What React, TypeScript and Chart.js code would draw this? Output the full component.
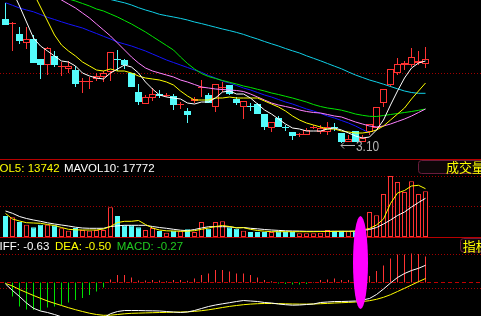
import React, { useEffect, useRef } from 'react';
import { Chart, registerables } from 'chart.js';
Chart.register(...registerables);

const W = 481;
const SLOT = 7;
const X_MIN = -5.5 / SLOT;
const X_MAX = X_MIN + W / SLOT;

// ---------- price data ----------
const opens = [4.34, 4.29, 4.19, 4.10, 4.14, 3.94, 3.88, 3.97, 3.86, 3.84,
  3.83, 3.71, 3.71, 3.74, 3.76, 3.81, 3.94, 3.93, 3.80, 3.61,
  3.49, 3.55, 3.59, 3.57, 3.57, 3.48, 3.42, 3.52, 3.65, 3.58,
  3.46, 3.65, 3.68, 3.54, 3.46, 3.47, 3.49, 3.39, 3.25, 3.35,
  3.26, 3.21, 3.18, 3.18, 3.25, 3.21, 3.21, 3.26, 3.20, 3.11,
  3.22, 3.11, 3.21, 3.25, 3.50, 3.68, 3.80, 3.88, 3.88, 3.90,
  3.89];
const highs = [4.50, 4.31, 4.26, 4.26, 4.18, 3.94, 4.06, 4.02, 3.91, 3.92,
  3.87, 3.75, 3.76, 3.80, 3.82, 4.01, 4.03, 3.94, 3.80, 3.69,
  3.58, 3.65, 3.63, 3.60, 3.59, 3.51, 3.45, 3.56, 3.73, 3.60,
  3.69, 3.71, 3.68, 3.56, 3.52, 3.50, 3.50, 3.39, 3.31, 3.37,
  3.28, 3.21, 3.20, 3.25, 3.28, 3.28, 3.31, 3.30, 3.20, 3.18,
  3.22, 3.18, 3.29, 3.46, 3.64, 3.84, 3.95, 3.92, 4.05, 4.02,
  4.06];
const lows = [4.28, 4.02, 4.09, 4.04, 3.90, 3.74, 3.78, 3.86, 3.77, 3.80,
  3.66, 3.60, 3.64, 3.72, 3.71, 3.72, 3.82, 3.84, 3.66, 3.48,
  3.49, 3.52, 3.55, 3.56, 3.43, 3.44, 3.30, 3.50, 3.56, 3.50,
  3.41, 3.61, 3.58, 3.48, 3.34, 3.42, 3.39, 3.23, 3.21, 3.26,
  3.22, 3.13, 3.16, 3.18, 3.24, 3.19, 3.18, 3.22, 3.10, 3.11,
  3.11, 3.11, 3.18, 3.25, 3.46, 3.66, 3.78, 3.83, 3.86, 3.88,
  3.85];
const closes = [4.28, 4.30, 4.12, 4.14, 3.90, 3.88, 4.05, 3.88, 3.87, 3.87,
  3.69, 3.71, 3.71, 3.77, 3.80, 4.01, 3.93, 3.88, 3.66, 3.51,
  3.56, 3.59, 3.57, 3.57, 3.48, 3.48, 3.38, 3.54, 3.66, 3.50,
  3.69, 3.66, 3.59, 3.50, 3.52, 3.46, 3.39, 3.26, 3.31, 3.26,
  3.25, 3.17, 3.19, 3.23, 3.26, 3.25, 3.26, 3.25, 3.11, 3.14,
  3.11, 3.15, 3.29, 3.46, 3.64, 3.84, 3.89, 3.90, 3.96, 3.92,
  3.94];

const ma5 = [4.78, 4.62, 4.47, 4.31, 4.15, 4.07, 4.02, 3.97, 3.92, 3.91,
  3.87, 3.80, 3.77, 3.75, 3.74, 3.80, 3.84, 3.88, 3.86, 3.80,
  3.71, 3.64, 3.58, 3.56, 3.55, 3.54, 3.50, 3.49, 3.51, 3.51,
  3.55, 3.61, 3.62, 3.59, 3.59, 3.55, 3.49, 3.43, 3.39, 3.34,
  3.29, 3.25, 3.24, 3.22, 3.22, 3.22, 3.24, 3.25, 3.23, 3.20,
  3.17, 3.15, 3.16, 3.23, 3.33, 3.48, 3.62, 3.75, 3.85, 3.90,
  3.92];
const ma10 = [null, null, 4.88, 4.74, 4.60, 4.46, 4.32, 4.18, 4.08, 4.02,
  3.97, 3.91, 3.87, 3.83, 3.82, 3.84, 3.82, 3.82, 3.80, 3.77,
  3.75, 3.74, 3.73, 3.71, 3.68, 3.62, 3.57, 3.53, 3.53, 3.53,
  3.55, 3.55, 3.56, 3.55, 3.55, 3.55, 3.55, 3.52, 3.49, 3.46,
  3.42, 3.37, 3.33, 3.30, 3.28, 3.26, 3.24, 3.24, 3.22, 3.21,
  3.20, 3.20, 3.21, 3.23, 3.27, 3.33, 3.39, 3.45, 3.54, 3.62,
  3.70];
const ma20 = [null, null, null, null, null, 4.70, 4.64, 4.59, 4.53, 4.49,
  4.45, 4.40, 4.35, 4.29, 4.23, 4.17, 4.10, 4.03, 3.96, 3.90,
  3.85, 3.82, 3.80, 3.78, 3.76, 3.73, 3.71, 3.685, 3.66, 3.65,
  3.64, 3.635, 3.63, 3.625, 3.615, 3.59, 3.56, 3.53, 3.50, 3.48,
  3.465, 3.45, 3.43, 3.415, 3.405, 3.40, 3.385, 3.37, 3.36, 3.335,
  3.31, 3.29, 3.27, 3.26, 3.27, 3.29, 3.315, 3.34, 3.37, 3.405,
  3.44];
const ma30 = [null, null, null, null, null, null, null, null, 4.57, 4.54,
  4.52, 4.495, 4.47, 4.44, 4.42, 4.39, 4.36, 4.325, 4.29, 4.25,
  4.21, 4.165, 4.12, 4.075, 4.03, 3.96, 3.895, 3.84, 3.795, 3.765,
  3.745, 3.725, 3.707, 3.69, 3.67, 3.655, 3.637, 3.62, 3.60, 3.585,
  3.567, 3.55, 3.53, 3.51, 3.485, 3.465, 3.45, 3.44, 3.428, 3.41,
  3.39, 3.377, 3.367, 3.365, 3.375, 3.385, 3.395, 3.405, 3.415, 3.427,
  3.44];
const ma60 = [4.503, 4.477, 4.45, 4.43, 4.412, 4.385, 4.357, 4.335, 4.312, 4.29,
  4.27, 4.25, 4.222, 4.195, 4.167, 4.14, 4.11, 4.09, 4.07, 4.045,
  4.02, 3.99, 3.96, 3.93, 3.905, 3.88, 3.855, 3.83, 3.807, 3.775,
  3.75, 3.72, 3.70, 3.675, 3.65, 3.63, 3.605, 3.58, 3.56, 3.535,
  3.51, 3.49, 3.465, 3.44, 3.42, 3.396, 3.37, 3.35, 3.325, 3.30,
  3.27, 3.235, 3.20, null, null, null, null, null, null, null,
  null];
const ma120 = [null, null, null, null, null, null, null, null, null, null,
  null, null, 4.595, 4.575, 4.555, 4.535, 4.518, 4.502, 4.48, 4.453,
  4.43, 4.41, 4.387, 4.373, 4.36, 4.346, 4.33, 4.31, 4.294, 4.276,
  4.258, 4.24, 4.224, 4.206, 4.186, 4.162, 4.14, 4.115, 4.092, 4.07,
  4.045, 4.022, 4.00, 3.972, 3.947, 3.922, 3.895, 3.868, 3.842, 3.81,
  3.78, 3.755, 3.73, 3.71, 3.688, 3.665, 3.642, 3.62, 3.605, 3.597,
  3.597];

// ---------- volume data ----------
const volumes = [21000, 19700, 15000, 12300, 9700, 12300, 12300, 11700, 8700, 6300,
  9000, 7000, 6300, 7000, 7000, 29700, 21000, 11700, 11700, 9700,
  7000, 9000, 6000, 4300, 6300, 5700, 7700, 5000, 15000, 8300,
  15000, 15700, 9700, 8300, 6300, 5000, 5000, 5000, 5000, 5700,
  5000, 5000, 3700, 3700, 3700, 4300, 7000, 6300, 6300, 5700,
  5500, 7500, 25000, 21700, 43000, 61000, 55000, 45000, 55700, 43000,
  45700];
const mavol5 = [23500, 18000, 16000, 14300, 14000, 13700, 12500, 11500, 9500, 7700,
  7200, 7000, 7000, 7000, 8000, 10500, 14500, 15700, 15700, 16500,
  12500, 9000, 7000, 6200, 6000, 5700, 5800, 6300, 7700, 9000,
  10500, 11500, 10500, 9200, 9300, 7700, 6500, 5800, 5300, 5300,
  5300, 5300, 5300, 5300, 5300, 5500, 5500, 5600, 5700, 5700,
  6000, 7000, 8500, 12000, 18000, 33500, 44000, 46500, 51000, 51700,
  48300];
const mavol10 = [26000, 23700, 20500, 18500, 17000, 15700, 14200, 13000, 12000, 11000,
  9800, 9000, 8700, 8700, 8700, 10500, 11200, 11700, 11700, 11700,
  11700, 10500, 9500, 8700, 7700, 6800, 6300, 7500, 9000, 10300,
  10300, 10300, 10300, 9200, 9500, 8700, 8200, 7500, 7000, 6600,
  6200, 6000, 5900, 5700, 5700, 5700, 5700, 5700, 5700, 5700,
  5700, 6500, 7500, 9500, 13000, 17000, 21500, 25000, 30000, 34500,
  38700];

// ---------- MACD data ----------
const macdHist = [-0.01, -0.14, -0.24, -0.27, -0.275, -0.28, -0.25, -0.24, -0.225, -0.20,
  -0.175, -0.155, -0.125, -0.09, -0.05, 0.03, 0.075, 0.075, 0.05, 0.02,
  0.02, 0.025, 0.02, 0.012, 0.025, 0.025, 0.018, 0.04, 0.075, 0.09,
  0.125, 0.125, 0.11, 0.09, 0.09, 0.075, 0.05, 0.025, 0.012, -0.01,
  -0.015, -0.02, -0.02, -0.015, 0.005, 0.025, 0.03, 0.04, 0.025, 0.025,
  0.03, 0.05, 0.065, 0.115, 0.17, 0.24, 0.28, 0.28, 0.29, 0.285,
  0.26];
const diffLine = [-0.015, -0.08, -0.14, -0.205, -0.258, -0.285, -0.30, -0.32, -0.343, -0.352,
  -0.36, -0.367, -0.37, -0.365, -0.353, -0.312, -0.29, -0.28, -0.28, -0.28,
  -0.282, -0.283, -0.285, -0.29, -0.295, -0.30, -0.295, -0.28, -0.26, -0.24,
  -0.225, -0.213, -0.202, -0.19, -0.18, -0.185, -0.19, -0.20, -0.205, -0.215,
  -0.222, -0.227, -0.225, -0.22, -0.215, -0.20, -0.195, -0.19, -0.19, -0.188,
  -0.185, -0.175, -0.16, -0.12, -0.065, -0.005, 0.05, 0.09, 0.12, 0.142,
  0.172];
const deaLine = [-0.01, -0.035, -0.07, -0.10, -0.13, -0.158, -0.185, -0.208, -0.23, -0.252,
  -0.272, -0.29, -0.307, -0.32, -0.328, -0.327, -0.32, -0.313, -0.308, -0.306,
  -0.304, -0.302, -0.30, -0.299, -0.297, -0.295, -0.293, -0.289, -0.282, -0.273,
  -0.262, -0.25, -0.239, -0.23, -0.222, -0.216, -0.212, -0.21, -0.21, -0.211,
  -0.213, -0.215, -0.216, -0.216, -0.215, -0.212, -0.209, -0.205, -0.202, -0.199,
  -0.195, -0.19, -0.182, -0.168, -0.148, -0.122, -0.09, -0.058, -0.025, 0.008,
  0.04];

// grid levels and label texts
const priceGrid = [3.80];
const volGrid = [61000, 30300];
const macdGrid = [0.282, -0.058];
const volLabels = [['MAVOL5: 13742', '#ffff00'], ['MAVOL10: 17772', '#ffffff']];
const macdLabels = [['DIFF: -0.63', '#ffffff'], ['DEA: -0.50', '#ffff00'], ['MACD: -0.27', '#20c820']];
const volTab = '成交量';
const macdTab = '指标';

// ---------- styling ----------
const UP = '#ff3232';
const DOWN = '#54fcfc';
const MACD_DOWN = '#00e000';
const GRID_RED = '#a00000';
const BORDER_RED = '#b80000';
const LABEL_FONT = '11.5px "Liberation Sans", Arial, sans-serif';
const CJK_FONT = '13px "Noto Sans CJK SC", sans-serif';

const idx = closes.map((_, i) => i);
const isUp = closes.map((c, i) => c >= opens[i]);

function hline(ctx: any, y: number, color: string, dash: number[]) {
  ctx.save();
  ctx.strokeStyle = color;
  ctx.lineWidth = 1;
  ctx.setLineDash(dash);
  const yy = Math.round(y - 0.5) + 0.5;
  ctx.beginPath();
  ctx.moveTo(0, yy);
  ctx.lineTo(W, yy);
  ctx.stroke();
  ctx.restore();
}

function tab(ctx: any, x: number, y: number, h: number, text: string, tx: number, ty: number) {
  ctx.save();
  const r = 3;
  const x2 = W + 10;
  ctx.beginPath();
  ctx.moveTo(x + r, y);
  ctx.lineTo(x2, y);
  ctx.lineTo(x2, y + h);
  ctx.lineTo(x + r, y + h);
  ctx.quadraticCurveTo(x, y + h, x, y + h - r);
  ctx.lineTo(x, y + r);
  ctx.quadraticCurveTo(x, y, x + r, y);
  ctx.closePath();
  ctx.fillStyle = '#0c0608';
  ctx.fill();
  ctx.strokeStyle = '#6a1c3c';
  ctx.lineWidth = 1;
  ctx.stroke();
  ctx.font = CJK_FONT;
  ctx.fillStyle = '#ffff00';
  ctx.textBaseline = 'alphabetic';
  ctx.fillText(text, tx, ty);
  ctx.restore();
}

function lineDs(data: (number | null)[], color: string) {
  return {
    type: 'line',
    data: data.map((v, i) => ({ x: i, y: v })),
    borderColor: color,
    borderWidth: 1,
    pointRadius: 0,
    tension: 0,
    spanGaps: false,
    order: 0,
  };
}

const baseOptions = (yMin: number, yMax: number) => ({
  animation: false,
  responsive: false,
  maintainAspectRatio: false,
  events: [],
  layout: { padding: 0 },
  plugins: { legend: { display: false }, tooltip: { enabled: false }, title: { display: false } },
  scales: {
    x: { type: 'linear', min: X_MIN, max: X_MAX, display: false, offset: false },
    y: { type: 'linear', min: yMin, max: yMax, display: false },
  },
});

function priceConfig(): any {
  return {
    type: 'bar',
    data: {
      datasets: [
        lineDs(ma5, '#ffffff'),
        lineDs(ma10, '#ffff00'),
        lineDs(ma20, '#ff80ff'),
        lineDs(ma30, '#00e600'),
        lineDs(ma60, '#1414ff'),
        lineDs(ma120, '#10d0e8'),
        {
          type: 'bar',
          data: idx.map((i) => ({ x: i, y: [opens[i], closes[i]] })),
          backgroundColor: isUp.map((u) => (u ? '#000000' : DOWN)),
          borderColor: isUp.map((u) => (u ? UP : DOWN)),
          borderWidth: 1,
          borderSkipped: false,
          barThickness: 7,
          minBarLength: 1,
          grouped: false,
          inflateAmount: 0,
          order: 1,
        },
        {
          type: 'bar',
          data: idx.map((i) => ({ x: i, y: [lows[i], highs[i]] })),
          backgroundColor: isUp.map((u) => (u ? UP : DOWN)),
          borderWidth: 0,
          barThickness: 1,
          minBarLength: 1,
          grouped: false,
          inflateAmount: 0,
          order: 2,
        },
      ],
    },
    options: baseOptions(2.93, 4.53),
    plugins: [
      {
        id: 'pricePanel',
        beforeDatasetsDraw(chart: any) {
          const { ctx, scales } = chart;
          priceGrid.forEach((v) => hline(ctx, scales.y.getPixelForValue(v), GRID_RED, [1, 2]));
        },
        afterDraw(chart: any) {
          const { ctx, scales, height } = chart;
          hline(ctx, height - 0.5, BORDER_RED, []);
          let li = 0;
          lows.forEach((l, i) => { if (l < lows[li]) li = i; });
          const px = Math.round(scales.x.getPixelForValue(li)) - 1;
          const ay = Math.round(scales.y.getPixelForValue(lows[li])) + 2.5;
          ctx.save();
          ctx.strokeStyle = '#b4b4b4';
          ctx.lineWidth = 1;
          ctx.beginPath();
          ctx.moveTo(px, ay);
          ctx.lineTo(px + 14, ay);
          ctx.moveTo(px, ay);
          ctx.lineTo(px + 3, ay - 3);
          ctx.moveTo(px, ay);
          ctx.lineTo(px + 3, ay + 3);
          ctx.stroke();
          ctx.fillStyle = '#b4b4b4';
          ctx.font = '14px "Liberation Sans", Arial, sans-serif';
          ctx.translate(px + 15, ay + 5.5);
          ctx.scale(0.85, 1);
          ctx.fillText(lows[li].toFixed(2), 0, 0);
          ctx.restore();
        },
      },
    ],
  };
}

function volConfig(): any {
  return {
    type: 'bar',
    data: {
      datasets: [
        lineDs(mavol5, '#ffff00'),
        lineDs(mavol10, '#ffffff'),
        {
          type: 'bar',
          data: idx.map((i) => ({ x: i, y: volumes[i] })),
          backgroundColor: isUp.map((u) => (u ? '#000000' : DOWN)),
          borderColor: isUp.map((u) => (u ? UP : DOWN)),
          borderWidth: 1,
          borderSkipped: false,
          barThickness: 5,
          grouped: false,
          inflateAmount: 0,
          order: 1,
        },
      ],
    },
    options: baseOptions(-1000, 77000),
    plugins: [
      {
        id: 'volPanel',
        beforeDatasetsDraw(chart: any) {
          const { ctx, scales } = chart;
          volGrid.forEach((v) => hline(ctx, scales.y.getPixelForValue(v), GRID_RED, [1, 2]));
        },
        afterDraw(chart: any) {
          const { ctx, height } = chart;
          hline(ctx, height - 0.5, BORDER_RED, []);
          ctx.save();
          ctx.font = LABEL_FONT;
          ctx.textBaseline = 'alphabetic';
          ctx.fillStyle = volLabels[0][1];
          ctx.fillText(volLabels[0][0], -ctx.measureText('MAV').width - 0.5, 11.5);
          ctx.fillStyle = volLabels[1][1];
          ctx.fillText(volLabels[1][0], 64, 11.5);
          ctx.restore();
          tab(ctx, 418.5, 0.5, 13, volTab, 446, 12);
        },
      },
    ],
  };
}

function macdConfig(): any {
  return {
    type: 'bar',
    data: {
      datasets: [
        lineDs(diffLine, '#ffffff'),
        lineDs(deaLine, '#ffff00'),
        {
          type: 'bar',
          data: idx.map((i) => ({ x: i, y: macdHist[i] })),
          backgroundColor: macdHist.map((v) => (v >= 0 ? UP : MACD_DOWN)),
          borderWidth: 0,
          barThickness: 1,
          grouped: false,
          inflateAmount: 0,
          order: 1,
        },
      ],
    },
    options: baseOptions(-0.335, 0.445),
    plugins: [
      {
        id: 'macdPanel',
        beforeDatasetsDraw(chart: any) {
          const { ctx, scales } = chart;
          macdGrid.forEach((v) => hline(ctx, scales.y.getPixelForValue(v), GRID_RED, [1, 2]));
          hline(ctx, scales.y.getPixelForValue(0), '#c00000', [4, 3]);
        },
        afterDraw(chart: any) {
          const { ctx } = chart;
          ctx.save();
          ctx.font = LABEL_FONT;
          ctx.textBaseline = 'alphabetic';
          const xs = [-ctx.measureText('D').width - 0.5, 55, 116.7];
          macdLabels.forEach(([t, c], k) => {
            ctx.fillStyle = c;
            ctx.fillText(t, xs[k], 11.5);
          });
          ctx.restore();
          tab(ctx, 460.5, 0.5, 13.5, macdTab, 462.7, 12.5);
        },
      },
    ],
  };
}

export default function App() {
  const pRef = useRef<HTMLCanvasElement>(null);
  const vRef = useRef<HTMLCanvasElement>(null);
  const mRef = useRef<HTMLCanvasElement>(null);

  useEffect(() => {
    const charts = [
      new Chart(pRef.current as HTMLCanvasElement, priceConfig()),
      new Chart(vRef.current as HTMLCanvasElement, volConfig()),
      new Chart(mRef.current as HTMLCanvasElement, macdConfig()),
    ];
    return () => charts.forEach((c) => c.destroy());
  }, []);

  return (
    <div style={{ position: 'fixed', left: 0, top: 0, width: W, height: 316, background: '#000', overflow: 'hidden' }}>
      <canvas ref={pRef} width={W} height={160} style={{ position: 'absolute', left: 0, top: 0, width: W, height: 160 }} />
      <canvas ref={vRef} width={W} height={78} style={{ position: 'absolute', left: 0, top: 160, width: W, height: 78 }} />
      <canvas ref={mRef} width={W} height={78} style={{ position: 'absolute', left: 0, top: 238, width: W, height: 78 }} />
      <div style={{ position: 'absolute', left: 353, top: 216, width: 15, height: 93, borderRadius: '50%', background: '#ff00ff' }} />
    </div>
  );
}
